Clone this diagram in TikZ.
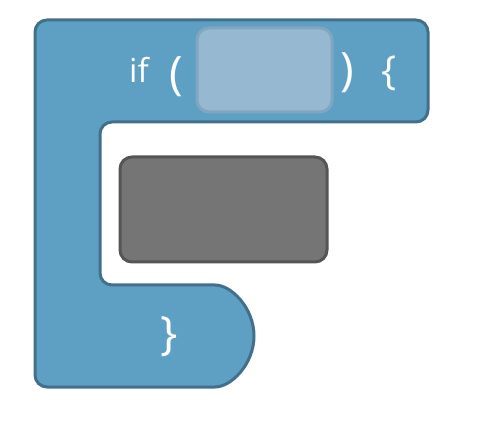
\documentclass[tikz,border=0pt]{standalone}
\usepackage{fontspec}
\setmainfont{Open Sans}
\definecolor{blockfill}{RGB}{93,160,196}
\definecolor{blockline}{RGB}{66,112,138}
\definecolor{slotfill}{RGB}{150,184,208}
\definecolor{slotline}{RGB}{128,166,194}
\definecolor{grayfill}{RGB}{117,117,117}
\definecolor{grayline}{RGB}{85,85,85}
\tikzset{
  codetext/.style={text=white, inner sep=0pt, font=\fontsize{33}{38}\selectfont, anchor=base},
  bracket/.style={text=white, inner sep=0pt, font=\fontsize{#1}{#1}\selectfont, anchor=center},
}
\begin{document}
\begin{tikzpicture}[x=1pt,y=1pt]
\useasboundingbox (0,0) rectangle (500,439);
% if block
\draw[fill=blockfill, draw=blockline, line width=3pt, rounded corners=12pt]
  (35,200) -- (35,419) -- (428,419) -- (428,317) -- (100,317) -- (100,154) -- (203,154)
  arc[start angle=90, end angle=-90, radius=51pt] -- (35,52) -- cycle;
% condition slot
\node[draw=slotline, fill=slotfill, line width=3pt, rounded corners=12pt,
      minimum width=135pt, minimum height=84pt, inner sep=0pt] (slot) at (264.5,369) {};
% body block
\node[draw=grayline, fill=grayfill, line width=3pt, rounded corners=12pt,
      minimum width=207pt, minimum height=105pt, inner sep=0pt] (body) at (223.5,229.5) {};
% texts
\node[codetext] (if) at (139,356) {if};
\node[bracket=46] (lp) at (176,362.5) {(};
\node[bracket=46] (rp) at (347.5,366.5) {)};
\node[bracket=40] (lb) at (389.5,366) {\{};
\node[bracket=46] (rb) at (169.5,102.5) {\}};
\end{tikzpicture}
\end{document}
